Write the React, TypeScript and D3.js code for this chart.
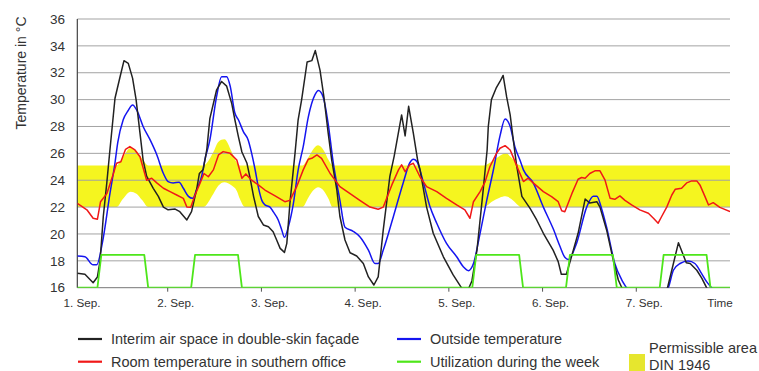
import React from "react";
import * as d3 from "d3";

// ---- data (hours since 1 Sep 00:00, temperature °C) ----
const interimAir: [number, number][] = [
  [0.85,17.07],[2.8,17.0],[4.9,16.37],[6.0,16.8],[6.7,18.06],[7.5,21.3],[8.4,23.8],[9.2,26.25],[10.5,30.1],[11.8,31.7],[12.8,32.9],[13.9,32.7],[15.0,31.6],[15.9,30.0],[16.9,27.5],[17.7,25.5],[18.6,24.3],[20.3,23.4],[21.6,22.8],[22.9,22.0],[24.1,21.8],[25.9,21.85],[27.1,21.66],[28.9,21.04],[30.1,21.66],[31.4,23.3],[32.1,24.5],[33.1,24.8],[34.0,26.25],[34.8,28.6],[36.5,30.7],[37.8,31.35],[39.1,31.0],[40.4,29.7],[41.2,28.5],[42.1,27.25],[43.0,26.1],[44.3,25.26],[45.1,24.15],[46.0,22.78],[47.2,21.3],[48.5,20.67],[49.8,20.54],[51.0,20.17],[51.9,19.55],[52.8,18.93],[53.9,18.63],[54.5,19.3],[55.3,22.3],[56.6,26.0],[57.4,28.5],[58.3,30.0],[59.7,32.8],[60.9,32.9],[61.8,33.65],[63.0,32.2],[64.0,30.2],[65.1,27.5],[66.0,25.5],[67.3,23.3],[68.1,21.3],[69.4,19.55],[70.7,18.6],[72.4,18.36],[74.1,17.8],[75.4,16.8],[76.8,16.2],[77.9,16.8],[79.2,20.3],[80.9,24.3],[82.0,25.8],[83.9,28.86],[84.8,27.3],[85.7,29.5],[86.9,27.5],[88.0,25.5],[88.6,24.8],[90.3,22.0],[92.0,20.05],[94.6,18.3],[97.1,16.95],[99.0,16.1],[100.4,15.5],[101.9,16.5],[103.2,18.8],[104.8,23.3],[105.8,26.25],[106.1,28.0],[106.9,30.0],[108.1,30.85],[109.1,31.35],[109.9,31.8],[110.8,30.2],[111.7,28.86],[112.5,27.0],[113.3,25.2],[114.7,22.8],[116.8,21.9],[118.5,21.04],[120.2,20.05],[122.7,18.8],[124.0,17.94],[124.8,17.0],[126.1,17.0],[127.4,18.3],[129.1,20.05],[130.9,22.6],[132.1,22.3],[133.9,22.4],[134.7,22.0],[136.4,20.3],[138.1,18.06],[139.4,16.57],[140.3,16.0],[143,15.0],[149,15.0],[152.0,16.0],[154.8,19.35],[156.8,17.86],[157.8,17.8],[159.5,17.3],[160.8,16.7],[162.0,16.0],[164,15.3],[168,15.0],
];

const outsideTemp: [number, number][] = [
  [0.85,18.36],[2.8,18.3],[4.9,17.7],[5.8,17.7],[7.4,19.55],[9.2,23.0],[10.5,25.3],[11.2,26.8],[12.6,28.5],[13.9,29.2],[15.0,29.6],[16.1,29.2],[17.7,28.0],[19.5,27.0],[21.2,25.9],[22.9,24.5],[24.1,23.9],[25.4,23.8],[26.9,23.85],[28.0,23.4],[29.3,22.8],[30.4,22.65],[31.4,23.3],[32.7,24.3],[33.5,25.5],[34.8,27.0],[36.5,30.2],[37.8,31.7],[39.1,31.7],[40.0,31.0],[41.2,29.0],[42.1,28.5],[43.4,27.6],[44.6,27.0],[45.5,26.0],[46.4,24.76],[47.2,23.5],[48.1,22.5],[48.9,22.16],[50.2,22.0],[51.0,21.66],[52.3,21.04],[53.2,20.3],[53.9,19.75],[54.9,20.54],[56.2,22.3],[57.4,24.76],[58.7,26.5],[60.0,28.7],[61.7,30.35],[62.6,30.67],[63.8,30.2],[65.1,28.2],[66.3,25.5],[68.1,22.5],[69.4,20.5],[71.5,20.2],[73.2,19.8],[75.4,18.8],[77.1,17.8],[77.9,17.8],[79.2,18.8],[81.8,21.3],[84.3,23.8],[86.0,25.3],[86.9,25.56],[87.8,25.4],[89.5,23.8],[91.2,22.0],[92.9,20.8],[95.4,19.3],[98.0,18.3],[99.7,17.56],[101.0,17.27],[102.3,17.8],[104.0,20.05],[105.7,22.5],[107.4,24.76],[109.1,27.3],[110.4,28.56],[111.7,28.0],[112.9,26.5],[114.2,25.5],[115.1,24.77],[117.6,23.8],[120.2,22.0],[122.7,20.4],[124.5,19.05],[125.7,18.26],[126.6,18.1],[128.7,19.3],[131.3,22.0],[133.0,22.8],[133.9,22.8],[135.1,21.9],[136.4,20.5],[138.5,17.8],[140.3,16.57],[141.5,16.0],[144,15.0],[149,15.0],[152.2,16.0],[153.5,17.3],[155.2,17.8],[157.3,17.98],[159.0,17.8],[160.7,17.07],[162.0,16.45],[163.3,16.0],[165,15.4],[168,15.0],
];

const roomTemp: [number, number][] = [
  [0.85,22.28],[3.3,21.8],[4.9,21.17],[6.0,21.1],[6.8,22.4],[8.4,23.0],[10.1,24.5],[10.9,25.26],[12.0,25.38],[13.2,26.3],[14.3,26.5],[15.6,26.25],[16.9,25.75],[18.6,24.0],[19.9,24.15],[21.2,23.8],[22.9,23.4],[24.6,23.15],[26.3,22.9],[28.0,22.65],[28.9,22.0],[29.9,21.98],[31.0,22.9],[32.3,23.8],[33.3,24.5],[34.4,24.26],[35.7,24.77],[37.0,25.88],[38.2,26.13],[40.0,26.0],[41.7,25.5],[43.0,24.15],[44.0,24.47],[45.5,24.0],[47.2,23.65],[48.9,23.27],[51.5,22.83],[54.0,22.4],[55.3,22.5],[57.0,23.5],[58.7,24.77],[60.0,25.56],[60.9,25.63],[62.2,25.88],[63.4,25.63],[65.6,24.5],[68.1,23.52],[70.7,23.0],[73.2,22.5],[75.8,22.0],[77.9,21.84],[79.2,22.0],[81.4,23.65],[83.1,24.77],[83.9,25.14],[84.8,24.64],[86.0,25.14],[86.9,25.26],[88.6,24.26],[90.3,23.52],[92.9,23.15],[95.4,22.65],[98.0,22.16],[100.1,21.79],[101.4,21.17],[102.3,22.4],[104.0,23.15],[105.3,23.9],[106.5,25.0],[108.2,26.0],[109.1,26.38],[110.4,26.57],[111.7,26.25],[112.5,25.7],[113.8,24.77],[115.1,23.9],[116.3,24.15],[117.6,23.8],[120.2,23.15],[122.3,22.78],[124.0,22.4],[124.9,21.73],[125.7,21.66],[127.5,23.0],[129.1,24.07],[130.0,24.2],[130.9,24.15],[132.1,24.5],[133.4,24.7],[134.7,24.7],[136.0,24.0],[137.3,22.65],[138.5,22.58],[139.8,22.83],[141.1,22.5],[142.8,22.16],[144.9,21.79],[147.1,21.54],[148.4,21.17],[149.6,20.8],[150.5,21.3],[151.8,22.0],[153.1,22.9],[154.0,23.33],[155.6,23.4],[156.9,23.8],[158.2,23.95],[159.5,23.95],[160.3,23.65],[161.6,22.78],[162.5,22.16],[163.7,22.33],[165.4,21.98],[168.0,21.66],
];

const utilization: [number, number][] = [
  [0.85,16],[6,16],[7,18.45],[18,18.45],[19,16],[30,16],[31,18.45],[42,18.45],[43,16],[102,16],[103,18.45],[114,18.45],[115,16],[126,16],[127,18.45],[138,18.45],[139,16],[150,16],[151,18.45],[162,18.45],[163,16],[168,16],
];

// permissible area DIN 1946: [hour, lower, upper]
const permissibleArea: [number, number, number][] = [
  [0.85,22,25.1],
  [10.9,22,25.1],[12.5,22.6,25.7],[14.5,23.15,26.4],[16,23.0,26.2],[17.5,22.5,25.6],[19,22,25.1],
  [33.1,22,25.1],[35.7,23.0,26.1],[37.0,23.6,26.87],[38.5,23.85,27.05],[40.4,23.6,26.1],[41.7,23.2,25.3],[42.5,22.6,25.1],[43.8,22,25.1],
  [58.5,22,25.1],[60,22.7,25.7],[61.5,23.3,26.4],[62.5,23.47,26.6],[64,23.2,26.2],[65.2,22.6,25.5],[66.2,22,25.1],
  [105,22,25.1],[107,22.4,25.4],[109,22.7,25.8],[110.5,22.8,26.0],[112,22.6,25.7],[113.5,22.2,25.2],[114.5,22,25.1],
  [168,22,25.1],
];

const yTicks = [16, 18, 20, 22, 24, 26, 28, 30, 32, 34, 36];
const dayLabels = ["1. Sep.", "2. Sep.", "3. Sep.", "4. Sep.", "5. Sep.", "6. Sep.", "7. Sep."];
const legendItems = [
  { label: "Interim air space in double-skin façade", color: "#222222" },
  { label: "Room temperature in southern office", color: "#f01818" },
  { label: "Outside temperature", color: "#1515f0" },
  { label: "Utilization during the week", color: "#4ee61a" },
];

const FONT = "'Liberation Sans', Arial, Helvetica, sans-serif";

export default function App() {
  const W = 759, H = 371;
  const hStart = 0.85, hEnd = 168;
  const x = d3.scaleLinear().domain([0, 168]).range([74, 730]);
  const y = d3.scaleLinear().domain([16, 36]).range([287.7, 19]);
  const left = x(hStart), right = x(hEnd), top = y(36), bottom = y(16);

  const line = d3.line<[number, number]>().x(d => x(d[0])).y(d => y(d[1])).curve(d3.curveMonotoneX);
  const lineLin = d3.line<[number, number]>().x(d => x(d[0])).y(d => y(d[1]));
  const area = d3.area<[number, number, number]>()
    .x(d => x(d[0])).y0(d => y(d[1])).y1(d => y(d[2])).curve(d3.curveMonotoneX);

  const textCol = "#333";

  return (
    <svg width={W} height={H} style={{ position: "absolute", left: 0, top: 0, background: "#fff" }} fontFamily={FONT}>
      <defs>
        <clipPath id="plot">
          <rect x={left} y={top - 2} width={right - left} height={bottom - top + 2} />
        </clipPath>
      </defs>
      <path d={area(permissibleArea) || ""} fill="#f5f51f" />
      {yTicks.filter(t => t > 16).map(t => (
        <line key={t} x1={left} x2={right} y1={y(t)} y2={y(t)} stroke="#a3a3a3" strokeWidth={1} />
      ))}
      <line x1={left} x2={right} y1={bottom} y2={bottom} stroke="#777" strokeWidth={1} />
      <line x1={left} x2={left} y1={top} y2={bottom} stroke="#444" strokeWidth={1.2} />
      {d3.range(1, 7).map(d => (
        <line key={d} x1={x(d * 24)} x2={x(d * 24)} y1={bottom} y2={bottom + 4} stroke="#555" strokeWidth={1} />
      ))}
      <g clipPath="url(#plot)" fill="none" strokeWidth={1.5} strokeLinejoin="round">
        <path d={line(outsideTemp) || ""} stroke="#1515f0" />
        <path d={lineLin(interimAir) || ""} stroke="#222222" />
        <path d={lineLin(roomTemp) || ""} stroke="#f01818" />
        <path d={lineLin(utilization) || ""} stroke="#4ee61a" strokeWidth={1.8} />
      </g>
      {yTicks.map(t => (
        <text key={t} x={65} y={y(t)} dy="0.35em" textAnchor="end" fontSize={13.5} fill={textCol}>{t}</text>
      ))}
      <text transform={`translate(26,73) rotate(-90)`} textAnchor="middle" fontSize={14} fill={textCol}>Temperature in °C</text>
      {dayLabels.map((lab, i) => (
        <text key={lab} x={x(i * 24) + (i === 0 ? 8 : 8)} y={307} textAnchor="middle" fontSize={11.7} fill={textCol}>{lab}</text>
      ))}
      <text x={x(168) - 10} y={307} textAnchor="middle" fontSize={11.7} fill={textCol}>Time</text>
      {legendItems.map((it, i) => {
        const col = i < 2 ? 0 : 1;
        const row = i % 2;
        const lx = col === 0 ? 78 : 397;
        const ly = row === 0 ? 339 : 361.7;
        return (
          <g key={it.label}>
            <line x1={lx} x2={lx + 24} y1={ly} y2={ly} stroke={it.color} strokeWidth={2.2} />
            <text x={lx + 33} y={ly} dy="0.35em" fontSize={14.5} fill={textCol}>{it.label}</text>
          </g>
        );
      })}
      <rect x={629} y={354} width={16} height={20} fill="#e6e62e" />
      <text x={649} y={348} dy="0.35em" fontSize={14.5} fill={textCol}>Permissible area</text>
      <text x={649} y={365} dy="0.35em" fontSize={14.5} fill={textCol}>DIN 1946</text>
    </svg>
  );
}
